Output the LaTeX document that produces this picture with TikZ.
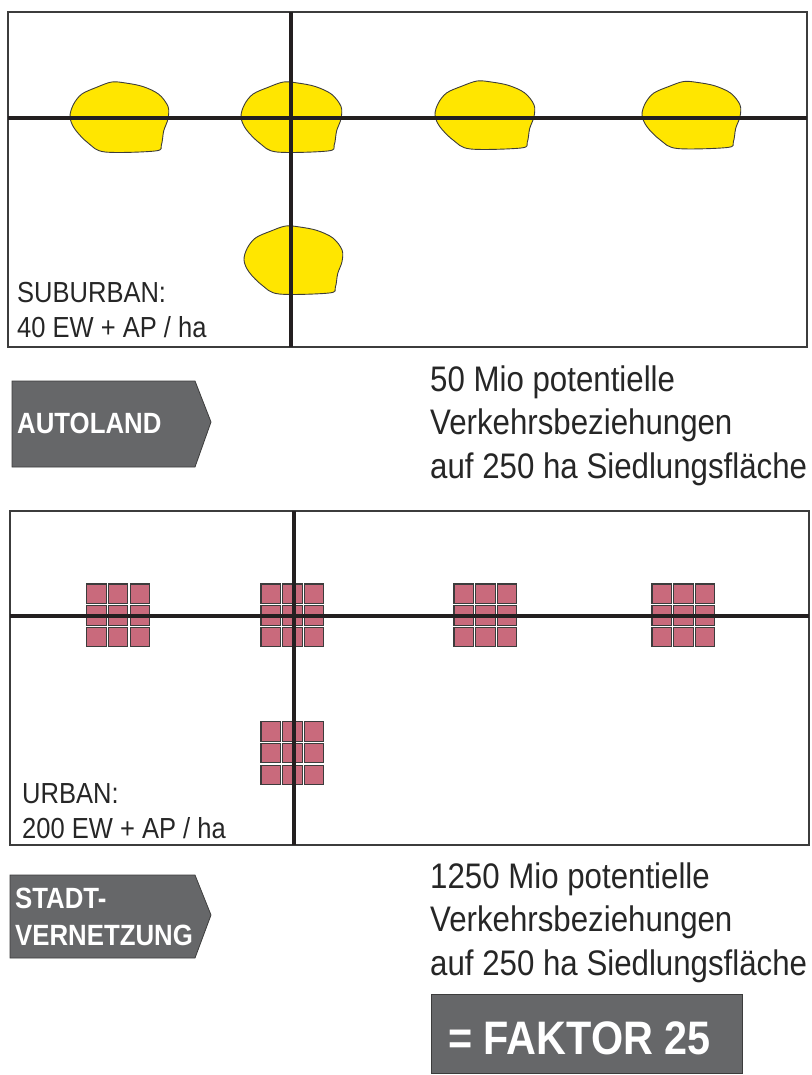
\documentclass[tikz,border=0pt]{standalone}
\usepackage{fontspec}
\setmainfont[FakeStretch=0.88]{Liberation Sans}
\definecolor{lineblk}{HTML}{231F20}
\definecolor{frame}{HTML}{3C3C3C}
\definecolor{blobyel}{HTML}{FFE600}
\definecolor{sqpink}{HTML}{C96A7C}
\definecolor{labgray}{HTML}{666769}
\tikzset{
  panel/.style={draw=frame, line width=1.4pt},
  road/.style={draw=lineblk, line width=3.8pt},
  blobstyle/.style={fill=blobyel, draw=frame, line width=0.9pt},
  sq/.style={fill=sqpink, draw=frame, line width=1.1pt},
  tag/.style={fill=labgray, draw=frame, line width=0.8pt},
  lbl/.style={anchor=base west, inner sep=0pt, text=black!85, font=\fontsize{29}{35}\selectfont},
  tagtxt/.style={anchor=base west, inner sep=0pt, text=white, align=left, font=\bfseries\fontsize{29.3}{37}\selectfont},
  bigtxt/.style={anchor=base west, inner sep=0pt, text=black!85, align=left, font=\fontsize{35.5}{43.5}\selectfont},
}
\newcommand\myblob[4]{%
  \fill[blobstyle, shift={(#1,#2)}, xscale=#3, yscale=#4]
    plot[smooth cycle, tension=0.55] coordinates {
      (0.426,0) (0.570,0.015) (0.744,0.065) (0.905,0.174) (1,0.35) (1,0.525)
      (0.956,0.70) (0.932,0.90) (0.871,0.985) (0.359,1) (0.188,0.875)
      (0.051,0.676) (0,0.5) (0.034,0.324) (0.119,0.174) (0.273,0.075)};%
}
\newcommand\mygrid[2]{%
  \foreach \i in {0,1,2}{\foreach \j in {0,1,2}{
    \path[sq] (#1+\i*21.7,#2+\j*21.7) rectangle ++(19.5,19.5);}}%
}
\begin{document}
\begin{tikzpicture}[x=1pt,y=-1pt]
\useasboundingbox (0,0) rectangle (811,1075);
% ---------- top panel ----------
\draw[panel] (8,12) rectangle (807,347);
\myblob{70}{82}{98}{70}
\myblob{241}{82}{100}{70}
\myblob{435}{81}{99}{68}
\myblob{642}{81.5}{98}{67}
\myblob{244}{226}{98}{68}
\coordinate (h1w) at (8,118);
\coordinate (h1e) at (807,118);
\coordinate (v1n) at (291,12);
\coordinate (v1s) at (291,347);
\draw[road] (h1w) -- (h1e);
\draw[road, line width=3.4pt] (v1n) -- (v1s);
\node[lbl] (sub1) at (17,302) {SUBURBAN:};
\node[lbl] (sub2) at (17,337) {40 EW + AP / ha};
% AUTOLAND tag
\path[tag] (12,381) -- (195,381) -- (211,422) -- (195,467) -- (12,467) -- cycle;
\node[tagtxt] (auto) at (17,433) {AUTOLAND};
\node[bigtxt] (txt1) at (430,478) {50 Mio potentielle\\Verkehrsbeziehungen\\auf 250 ha Siedlungsfläche};
% ---------- bottom panel ----------
\draw[panel] (10,511) rectangle (809,845);
\mygrid{86.7}{584}
\mygrid{261}{584}
\mygrid{454}{584}
\mygrid{652}{584}
\mygrid{261}{721.7}
\coordinate (h2w) at (10,616);
\coordinate (h2e) at (809,616);
\coordinate (v2n) at (294,511);
\coordinate (v2s) at (294,845);
\draw[road, line width=3.4pt] (h2w) -- (h2e);
\draw[road, line width=3.6pt] (v2n) -- (v2s);
\node[lbl] (urb1) at (22,803) {URBAN:};
\node[lbl] (urb2) at (22,838) {200 EW + AP / ha};
% STADT-VERNETZUNG tag
\path[tag] (10,875) -- (195,875) -- (211,915) -- (195,958) -- (10,958) -- cycle;
\node[tagtxt] (stadt) at (15,945) {STADT-\\VERNETZUNG};
\node[bigtxt] (txt2) at (430,975) {1250 Mio potentielle\\Verkehrsbeziehungen\\auf 250 ha Siedlungsfläche};
% FAKTOR box
\path[tag] (431,994) rectangle (742,1073);
\node[tagtxt, font=\bfseries\fontsize{47}{50}\selectfont] (faktor) at (448,1054) {= FAKTOR 25};
\end{tikzpicture}
\end{document}
